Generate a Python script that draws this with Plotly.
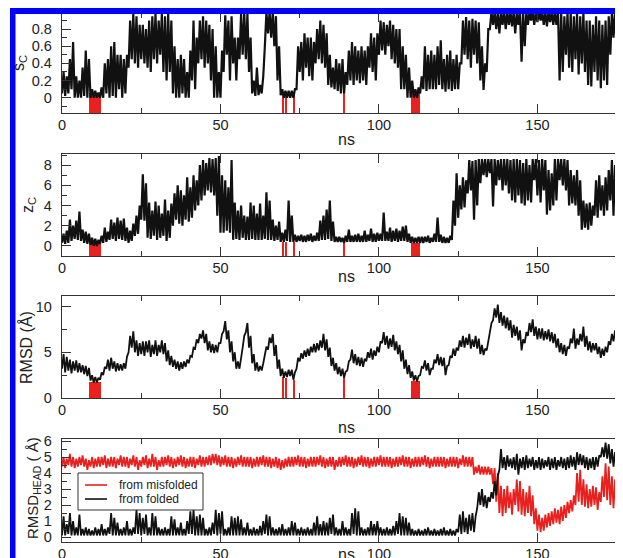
import plotly.graph_objects as go

# ---------------- data ----------------
time_ns = list(range(178))

sc_lo = [0.05,0.02,0.05,0.10,0.00,0.00,0.00,0.02,0.00,0.00,
 0.00,0.00,0.00,0.00,0.05,0.00,0.02,0.00,0.10,0.00,
 0.05,0.35,0.45,0.40,0.35,0.45,0.40,0.35,0.30,0.45,
 0.40,0.50,0.30,0.20,0.30,0.05,0.00,0.00,0.05,0.00,
 0.00,0.20,0.10,0.40,0.45,0.35,0.40,0.20,0.00,0.00,
 0.00,0.30,0.50,0.20,0.40,0.20,0.45,0.50,0.45,0.30,
 0.05,0.02,0.03,0.05,0.60,0.75,0.70,0.60,0.20,0.03,
 0.00,0.00,0.00,0.00,0.10,0.30,0.20,0.35,0.25,0.20,
 0.40,0.45,0.40,0.35,0.15,0.12,0.10,0.08,0.05,0.05,
 0.15,0.20,0.15,0.20,0.17,0.20,0.15,0.35,0.30,0.20,
 0.50,0.55,0.50,0.60,0.45,0.40,0.35,0.10,0.10,0.00,
 0.00,0.00,0.00,0.05,0.10,0.08,0.10,0.10,0.10,0.15,
 0.10,0.07,0.10,0.08,0.10,0.10,0.40,0.50,0.45,0.35,
 0.50,0.40,0.20,0.09,0.30,0.80,0.85,0.80,0.75,0.85,
 0.80,0.85,0.83,0.75,0.85,0.42,0.60,0.85,0.90,0.85,
 0.88,0.90,0.85,0.83,0.88,0.85,0.85,0.20,0.30,0.50,
 0.35,0.30,0.45,0.27,0.40,0.30,0.15,0.13,0.30,0.20,
 0.11,0.20,0.15,0.50,0.70,0.60,0.65,0.70]
sc_hi = [0.30,0.25,0.45,0.65,0.25,0.20,0.35,0.55,0.45,0.10,
 0.08,0.06,0.12,0.40,0.45,0.60,0.65,0.50,0.50,0.45,
 0.50,0.90,0.98,0.95,0.85,0.85,0.80,0.90,0.95,0.98,
 0.90,0.98,0.95,0.98,0.90,0.60,0.45,0.50,0.45,0.30,
 0.55,0.90,0.70,0.90,0.95,0.90,0.85,0.80,0.60,0.30,
 0.55,0.96,0.90,0.95,0.70,0.70,0.98,1.00,0.98,0.70,
 0.20,0.35,0.15,0.25,1.00,1.00,1.00,0.95,0.60,0.10,
 0.08,0.08,0.08,0.10,0.60,0.65,0.75,0.70,0.70,0.65,
 0.80,0.90,0.85,0.75,0.50,0.35,0.45,0.40,0.45,0.30,
 0.55,0.65,0.60,0.55,0.60,0.55,0.60,0.75,0.70,0.75,
 0.90,0.88,0.85,0.90,0.85,0.80,0.80,0.60,0.50,0.35,
 0.20,0.10,0.12,0.25,0.60,0.50,0.55,0.50,0.60,0.67,
 0.45,0.50,0.55,0.45,0.50,0.40,0.90,0.94,0.90,0.92,
 0.90,0.88,0.60,0.40,0.80,1.00,1.00,1.00,1.00,1.00,
 1.00,1.00,1.00,1.00,1.00,1.00,1.00,1.00,1.00,1.00,
 1.00,1.00,1.00,1.00,1.00,1.00,1.00,1.00,0.95,1.00,
 1.00,0.95,1.00,0.95,1.00,0.90,0.90,0.85,0.95,0.90,
 0.85,0.90,0.95,1.00,1.00,1.00,1.00,1.00]

zc_lo = [0.3,0.2,0.3,0.5,0.7,0.6,0.5,0.3,0.2,0.1,
 0.0,0.0,0.2,0.3,0.4,0.6,0.7,0.5,0.7,0.6,
 0.5,0.3,0.5,1.0,1.2,2.6,2.5,0.8,0.7,1.0,
 0.6,0.8,1.0,0.5,0.8,2.0,2.6,2.2,2.0,2.6,
 2.4,2.8,3.5,4.0,4.5,5.0,5.5,5.3,5.0,3.0,
 1.3,1.3,1.5,1.3,0.6,0.7,0.6,0.8,0.6,0.6,
 0.7,0.6,0.6,0.6,0.7,0.6,0.6,0.5,0.6,0.4,
 0.4,0.5,0.4,0.4,0.4,0.5,0.4,0.4,0.5,0.4,
 0.5,0.5,0.6,0.6,0.7,0.5,0.4,0.4,0.4,0.3,
 0.4,0.4,0.4,0.4,0.4,0.4,0.4,0.5,0.4,0.4,
 0.5,0.5,0.5,0.5,0.4,0.5,0.4,0.5,0.5,0.4,
 0.3,0.3,0.3,0.3,0.3,0.4,0.3,0.4,0.4,0.4,
 0.3,0.3,0.3,0.6,2.0,2.8,3.6,3.8,5.2,5.5,
 2.6,4.0,6.2,7.0,6.8,7.2,3.9,6.0,6.5,5.5,
 6.0,5.2,4.5,4.3,5.0,4.2,4.0,4.5,4.3,6.5,
 5.0,4.3,5.5,3.1,3.5,4.0,4.5,6.5,6.0,5.5,
 4.0,4.2,4.0,3.0,1.6,1.8,1.6,2.0,3.0,2.8,
 3.5,3.0,3.5,4.5,3.0,4.0,2.5,3.0]
zc_hi = [1.2,1.5,2.6,2.0,2.5,3.4,1.6,1.4,1.2,0.8,
 0.7,0.6,1.0,1.8,1.4,2.6,2.3,2.8,2.5,2.7,
 1.8,1.5,2.2,3.0,4.0,7.1,6.2,4.3,3.5,4.4,
 4.0,3.2,4.6,3.5,4.2,5.2,6.0,5.5,5.0,6.8,
 5.8,7.0,6.5,8.0,8.5,8.2,8.7,8.6,8.7,8.9,
 7.0,6.5,5.8,8.5,4.3,3.5,4.0,3.0,2.9,4.3,
 4.0,3.2,4.2,3.0,5.3,4.5,2.6,2.0,2.4,1.3,
 1.6,4.5,3.0,1.1,1.0,1.1,1.0,1.1,1.2,1.0,
 1.3,2.5,3.0,3.6,4.5,2.4,0.9,0.9,0.8,1.0,
 1.6,1.0,1.1,1.2,1.0,1.5,1.1,1.7,1.2,1.3,
 1.2,3.3,1.4,1.8,1.5,1.7,1.5,1.9,2.0,1.2,
 0.9,0.8,0.9,0.9,0.9,1.0,0.8,1.2,2.8,1.1,
 0.9,0.8,1.0,4.5,7.2,6.0,6.8,6.5,8.5,8.4,
 8.5,8.6,8.6,8.6,8.6,8.6,8.6,8.5,8.6,8.6,
 8.6,8.5,8.6,8.6,8.5,8.2,8.6,8.0,8.6,8.6,
 8.5,8.6,8.5,7.5,7.2,8.6,8.6,8.6,8.6,8.5,
 7.5,7.0,7.5,6.5,4.5,4.2,4.3,4.0,6.5,7.0,
 6.0,6.8,7.5,8.5,8.0,7.8,8.2,8.0]

rmsd_lo = [3.2,2.8,3.0,2.7,3.0,2.8,2.8,2.6,2.4,1.9,
 1.7,1.7,2.0,2.5,3.2,3.0,3.2,2.9,3.0,3.0,
 3.2,5.0,5.5,5.0,4.6,4.8,4.6,5.0,4.5,4.8,
 4.6,5.0,4.8,4.0,3.6,3.4,3.2,3.0,3.2,3.4,
 3.8,4.5,5.4,6.0,6.5,6.0,5.2,5.0,4.9,5.0,
 6.0,7.3,6.4,5.0,4.0,3.2,3.2,5.5,7.2,5.5,
 3.8,3.0,2.9,3.0,4.6,5.3,6.0,4.6,3.2,2.4,
 2.2,2.3,2.4,2.0,3.2,4.0,4.3,4.5,4.6,5.0,
 5.0,5.2,5.5,5.2,4.5,3.5,3.0,2.6,2.4,2.2,
 3.0,4.2,3.8,3.6,3.5,3.4,4.0,4.4,4.2,4.6,
 5.0,6.0,5.8,5.4,5.6,5.2,4.8,4.0,3.2,2.6,
 2.2,1.9,1.8,2.5,3.3,3.0,2.5,3.2,3.8,3.6,
 3.5,2.5,3.6,4.4,4.6,5.2,5.6,5.5,5.8,5.4,
 5.6,5.4,4.8,4.7,5.2,7.0,8.5,8.8,8.2,7.9,
 7.6,7.4,6.6,6.8,6.3,5.2,6.0,6.8,7.2,6.8,
 6.4,6.5,6.3,6.4,6.2,6.0,5.5,5.0,4.8,4.6,
 5.4,6.0,5.4,5.8,6.2,5.6,5.2,5.0,5.2,4.8,
 4.4,4.6,5.0,5.8,6.2,5.8,6.0,5.8]
rmsd_hi = [4.8,4.5,4.2,4.0,4.1,3.8,3.6,3.5,3.3,2.5,
 2.3,2.2,2.8,3.4,4.2,4.4,4.0,3.8,3.7,3.8,
 4.5,6.8,7.3,6.3,6.0,6.2,6.2,6.3,5.8,6.3,
 5.8,6.3,6.0,5.2,4.6,4.2,4.0,3.9,4.0,4.2,
 4.6,5.5,6.4,7.0,7.4,7.0,6.2,5.9,5.8,6.0,
 7.0,8.4,7.4,6.2,5.0,4.0,4.2,6.8,8.2,6.8,
 4.8,3.9,3.5,3.8,5.6,6.6,7.0,5.8,4.2,3.2,
 2.9,3.1,3.1,2.8,4.4,4.9,5.2,5.4,5.6,5.9,
 6.0,6.3,7.0,6.4,5.5,4.4,3.8,3.4,3.2,2.9,
 4.0,5.3,4.8,4.5,4.4,4.3,5.0,5.4,5.2,5.6,
 6.2,7.2,6.8,6.5,6.9,6.2,5.8,5.2,4.2,3.6,
 2.9,2.5,2.4,3.4,4.1,3.8,3.2,4.2,4.8,4.5,
 4.4,3.5,4.6,5.4,5.5,6.3,6.8,6.6,7.0,6.4,
 6.8,6.5,5.8,5.4,6.3,8.2,9.8,10.2,9.4,9.0,
 8.8,8.5,8.0,7.8,7.4,6.4,7.2,8.2,8.6,7.8,
 7.6,7.6,7.3,7.5,7.2,7.0,6.5,6.0,5.8,5.6,
 6.5,7.6,6.5,7.0,7.8,6.8,6.2,6.0,6.0,5.6,
 5.4,5.6,6.2,7.0,7.4,6.8,7.0,7.0]

misfolded_lo = [4.4,4.3,4.5,4.4,4.3,4.4,4.5,4.4,4.2,4.4,
 4.3,4.4,4.4,4.5,4.3,4.4,4.4,4.3,4.5,4.4,
 4.4,4.3,4.5,4.4,4.2,4.4,4.5,4.3,4.4,4.4,
 4.2,4.4,4.4,4.5,4.4,4.3,4.4,4.5,4.4,4.3,
 4.4,4.4,4.3,4.5,4.4,4.4,4.5,4.5,4.6,4.5,
 4.4,4.5,4.4,4.4,4.3,4.4,4.5,4.4,4.4,4.4,
 4.3,4.4,4.4,4.5,4.4,4.4,4.3,4.4,4.3,4.2,
 4.3,4.4,4.4,4.4,4.5,4.4,4.4,4.3,4.4,4.4,
 4.4,4.5,4.4,4.3,4.4,4.4,4.2,4.4,4.4,4.5,
 4.4,4.4,4.3,4.4,4.5,4.4,4.4,4.3,4.4,4.4,
 4.5,4.4,4.4,4.4,4.3,4.4,4.4,4.5,4.4,4.4,
 4.3,4.4,4.4,4.4,4.5,4.4,4.3,4.4,4.4,4.4,
 4.4,4.3,4.4,4.4,4.4,4.3,4.5,4.4,4.4,4.4,
 3.9,4.0,3.9,3.9,3.9,3.9,3.3,2.2,1.5,1.3,
 1.5,1.8,1.4,2.0,1.6,1.4,1.3,1.5,1.3,0.8,
 0.4,0.3,0.4,0.6,0.7,0.8,0.9,0.8,1.0,1.2,
 1.5,1.6,2.0,2.2,2.0,1.9,1.8,1.9,2.0,1.7,
 2.2,2.5,2.3,2.0,1.8,1.6,2.0,1.8]
misfolded_hi = [5.0,4.9,5.2,5.0,4.9,5.0,5.1,4.9,4.8,5.0,
 4.9,5.0,5.0,5.1,4.9,5.0,5.0,4.9,5.1,5.0,
 5.0,4.9,5.1,5.0,4.8,5.0,5.1,4.9,5.2,5.0,
 4.8,5.0,5.0,5.1,5.0,4.9,5.0,5.1,5.0,4.9,
 5.0,5.0,4.9,5.1,5.0,5.0,5.1,5.2,5.2,5.1,
 5.0,5.1,5.0,5.0,4.9,5.0,5.1,5.0,5.0,5.0,
 4.9,5.0,5.0,5.1,5.0,5.0,4.9,5.0,4.9,4.8,
 4.9,5.0,5.0,5.0,5.1,5.0,5.0,4.9,5.0,5.0,
 5.0,5.1,5.0,4.9,5.0,5.0,4.8,5.0,5.0,5.1,
 5.0,5.0,4.9,5.0,5.1,5.0,5.0,4.9,5.0,5.0,
 5.1,5.0,5.0,5.0,4.9,5.0,5.0,5.1,5.0,5.0,
 4.9,5.0,5.0,5.0,5.1,5.0,4.9,5.0,5.0,5.0,
 5.0,4.9,5.0,5.0,5.0,4.9,5.1,5.0,5.0,5.0,
 4.4,4.5,4.4,4.4,4.4,4.3,4.3,4.0,3.2,3.0,
 3.2,2.8,3.0,3.6,3.5,3.0,2.8,3.2,2.6,1.8,
 1.4,1.2,1.4,1.5,1.6,1.8,1.7,1.9,2.0,2.2,
 2.3,2.6,4.0,4.2,3.6,3.3,3.0,3.2,3.1,2.8,
 3.8,4.6,4.4,3.8,3.6,3.4,3.7,3.5]

folded_lo = [0.1,0.1,0.2,0.1,0.1,0.1,0.1,0.1,0.1,0.1,
 0.1,0.1,0.1,0.1,0.1,0.2,0.1,0.1,0.1,0.1,
 0.1,0.1,0.1,0.2,0.2,0.1,0.2,0.1,0.1,0.1,
 0.1,0.1,0.1,0.1,0.1,0.1,0.1,0.1,0.1,0.1,
 0.2,0.2,0.1,0.1,0.1,0.1,0.1,0.1,0.2,0.1,
 0.2,0.1,0.1,0.1,0.1,0.1,0.1,0.1,0.1,0.1,
 0.1,0.1,0.1,0.1,0.2,0.1,0.1,0.1,0.1,0.1,
 0.1,0.1,0.1,0.1,0.1,0.1,0.1,0.1,0.1,0.1,
 0.1,0.1,0.1,0.1,0.1,0.2,0.1,0.1,0.1,0.1,
 0.1,0.1,0.2,0.1,0.1,0.1,0.1,0.1,0.1,0.1,
 0.1,0.1,0.1,0.1,0.1,0.1,0.2,0.1,0.1,0.1,
 0.1,0.1,0.1,0.1,0.1,0.1,0.1,0.1,0.1,0.1,
 0.1,0.1,0.1,0.1,0.1,0.3,0.2,0.3,0.2,0.4,
 0.3,1.8,2.0,1.9,1.8,2.2,2.4,2.6,4.2,4.3,
 4.2,4.4,4.3,4.2,3.9,4.3,4.2,4.3,4.4,4.2,
 4.3,4.2,4.3,4.4,4.2,4.3,4.2,4.4,4.3,4.2,
 4.3,4.4,4.2,4.5,4.5,4.3,4.2,4.3,4.2,4.4,
 5.0,5.0,4.9,4.6,4.4,4.3,4.4,4.3]
folded_hi = [1.3,0.8,1.5,1.0,0.6,1.4,0.5,0.6,0.5,0.4,
 0.6,0.5,0.8,0.5,0.6,1.5,1.2,0.9,0.5,0.6,
 1.0,0.5,0.6,1.7,1.5,1.2,1.4,0.6,1.5,1.3,
 0.6,0.5,0.6,0.5,1.3,1.1,0.6,0.9,0.5,1.0,
 1.6,1.7,1.3,1.4,1.2,0.5,0.6,0.9,1.7,1.5,
 1.6,0.5,0.6,1.3,1.2,1.3,1.1,0.6,0.9,0.5,
 0.6,0.5,0.7,1.0,1.4,1.3,0.6,0.5,0.6,0.8,
 0.5,0.6,1.0,0.9,0.5,0.6,0.5,0.6,0.5,0.9,
 1.3,0.8,1.0,0.9,1.2,1.4,0.6,0.5,1.0,0.6,
 0.5,1.5,1.8,1.6,0.6,0.5,0.6,1.0,0.8,1.0,
 0.6,0.5,0.6,0.5,0.7,1.0,1.5,1.3,1.2,0.9,
 0.5,0.4,0.5,0.4,0.5,0.6,0.4,0.5,0.4,0.5,
 0.6,0.4,0.5,0.4,0.5,1.4,1.6,1.2,1.4,1.5,
 1.3,2.8,3.0,2.6,2.5,2.8,3.5,3.8,5.5,5.0,
 5.1,4.9,5.0,5.2,4.9,5.0,5.1,4.9,5.0,4.8,
 5.0,4.9,4.8,5.0,4.9,5.0,4.8,5.0,4.9,5.0,
 5.1,5.0,5.3,5.2,5.1,5.0,4.9,5.0,5.0,5.1,
 5.6,5.9,5.8,5.5,5.3,5.2,5.4,5.3]

# folded-state windows (red markers) and the level each panel reaches there
fold_start = [8.6, 69.6, 70.6, 72.9, 88.8, 110.2]
fold_end = [12.3, 70.0, 71.0, 73.3, 89.2, 112.8]
sc_fold = [0.05, 0.05, 0.05, 0.06, 0.08, 0.05]
zc_fold = [0.3, 0.4, 0.4, 0.4, 0.3, 0.3]
rmsd_fold = [1.8, 2.3, 2.2, 2.0, 2.2, 1.9]

legend_names = ["from misfolded", "from folded"]

# ---------------- layout constants ----------------
OFF = 8                      # page body margin of the html page
W, H = 623 - OFF, 558 - OFF  # figure size so that it ends at the window edge
FONT = "Liberation Sans, Arial, Helvetica, sans-serif"
RED = "#e8211f"
BLACK = "#111111"
AX = "#333333"
TXT = "#222222"


def fx(px):
    return (px - OFF) / W


def fy(py):
    return 1 - (py - OFF) / H


X0PX = 62
panels_px = [(13, 113), (154, 256), (296, 398), (439, 542)]
yranges = [(-0.178, 0.987), (-1.0, 9.1), (0.0, 11.15), (-0.31, 6.125)]
ydt = [(0.2, 0.1), (2, 1), (5, 2.5), (1, 0.5)]
xrange_ = (0, 177)


def zigzag(lo, hi):
    xs, ys = [], []
    for t, a, b in zip(time_ns, lo, hi):
        xs += [t, t + 0.5]
        ys += [a, b]
    return xs, ys


fig = go.Figure()


def axn(k, letter):
    return letter if k == 1 else f"{letter}{k}"


def add_fold_bars(k, tops):
    base = yranges[k - 1][0]
    fig.add_trace(go.Bar(
        x=[(s + e) / 2 for s, e in zip(fold_start, fold_end)],
        width=[e - s for s, e in zip(fold_start, fold_end)],
        y=[t - base for t in tops], base=[base] * len(tops),
        marker=dict(color=RED, line=dict(width=0)),
        showlegend=False, hoverinfo="skip",
        xaxis=axn(k, "x"), yaxis=axn(k, "y")))


def add_trace_line(k, lo, hi, color, name=None, width=1.5):
    xs, ys = zigzag(lo, hi)
    fig.add_trace(go.Scatter(
        x=xs, y=ys, mode="lines", line=dict(color=color, width=width),
        name=name, showlegend=False,
        xaxis=axn(k, "x"), yaxis=axn(k, "y")))


add_trace_line(1, sc_lo, sc_hi, BLACK, width=2.2)
add_fold_bars(1, sc_fold)
add_trace_line(2, zc_lo, zc_hi, BLACK, width=2.2)
add_fold_bars(2, zc_fold)
add_trace_line(3, rmsd_lo, rmsd_hi, BLACK, width=1.8)
add_fold_bars(3, rmsd_fold)
add_trace_line(4, misfolded_lo, misfolded_hi, RED, legend_names[0], width=1.8)
add_trace_line(4, folded_lo, folded_hi, BLACK, legend_names[1], width=1.8)

layout = dict(
    width=W, height=H, margin=dict(l=0, r=0, t=0, b=0),
    paper_bgcolor="white", plot_bgcolor="white",
    font=dict(family=FONT, size=15, color=TXT),
    bargap=0, barmode="overlay", showlegend=False,
)

for k in range(1, 5):
    top, bot = panels_px[k - 1]
    layout[axn(k, "xaxis")] = dict(
        domain=[fx(X0PX), 1], range=list(xrange_), anchor=axn(k, "y"),
        showline=True, linecolor=AX, linewidth=1.3, mirror="ticks",
        ticks="inside", ticklen=9, tickwidth=1.3, tickcolor=AX,
        tick0=0, dtick=50, showgrid=False, zeroline=False,
        ticklabelstandoff=-2, automargin=False,
        minor=dict(ticks="inside", ticklen=5, tickwidth=1.3, tickcolor=AX,
                   dtick=25, tick0=0, showgrid=False),
        tickfont=dict(size=14.5))
    major, minor = ydt[k - 1]
    layout[axn(k, "yaxis")] = dict(
        domain=[fy(bot), fy(top)], range=list(yranges[k - 1]),
        anchor=axn(k, "x"), showline=True, linecolor=AX, linewidth=1.3,
        ticks="inside", ticklen=9, tickwidth=1.3, tickcolor=AX,
        tick0=0, dtick=major, showgrid=False, zeroline=False,
        ticklabelstandoff=6, automargin=False,
        minor=dict(ticks="inside", ticklen=5, tickwidth=1.3, tickcolor=AX,
                   dtick=minor, tick0=0, showgrid=False),
        tickfont=dict(size=14.5))

fig.update_layout(**layout)

# axis labels
ylabels = [("s<sub>C</sub>", 20, 63, 16), ("z<sub>C</sub>", 28, 205, 16),
           ("RMSD (Å)", 26, 348, 16), ("RMSD<sub>HEAD</sub> ( Å)", 33, 488, 15)]
for txt, xpx, ypx, sz in ylabels:
    fig.add_annotation(text=txt, x=fx(xpx), y=fy(ypx), xref="paper",
                       yref="paper", showarrow=False, textangle=-90,
                       font=dict(size=sz, family=FONT, color=TXT),
                       xanchor="center", yanchor="middle")
for ypx in [139, 277, 427, 554]:
    fig.add_annotation(text="ns", x=fx(346), y=fy(ypx), xref="paper",
                       yref="paper", showarrow=False,
                       font=dict(size=16, family=FONT, color=TXT),
                       xanchor="center", yanchor="middle")

# legend box of the bottom panel
fig.add_shape(type="rect", xref="paper", yref="paper", x0=fx(78), x1=fx(203),
              y0=fy(510), y1=fy(473), fillcolor="white",
              line=dict(color=AX, width=1), layer="above")
for name, color, ypx in [(legend_names[0], RED, 485), (legend_names[1], BLACK, 499)]:
    fig.add_shape(type="line", xref="paper", yref="paper", x0=fx(85), x1=fx(107),
                  y0=fy(ypx), y1=fy(ypx), line=dict(color=color, width=1.6),
                  layer="above")
    fig.add_annotation(text=name, x=fx(117), y=fy(ypx), xref="paper",
                       yref="paper", showarrow=False, xanchor="left",
                       yanchor="middle",
                       font=dict(size=12, family=FONT, color=TXT))

# blue frame of the page
fig.add_shape(type="rect", xref="paper", yref="paper", x0=fx(10), x1=1,
              y0=fy(14), y1=fy(8), fillcolor="#0000ff",
              line=dict(width=0), layer="above")
fig.add_shape(type="rect", xref="paper", yref="paper", x0=fx(10), x1=fx(15.5),
              y0=0, y1=fy(8), fillcolor="#0000ff",
              line=dict(width=0), layer="above")

fig.write_html("out.html")
